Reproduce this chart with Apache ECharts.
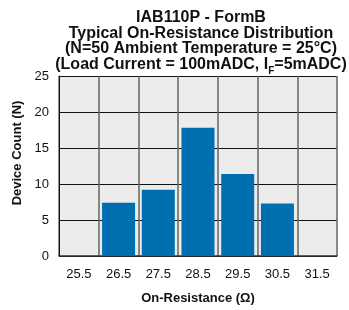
<!DOCTYPE html>
<html>
<head>
<meta charset="utf-8">
<script src="https://cdn.jsdelivr.net/npm/echarts@6/dist/echarts.min.js"></script>
<style>
  html, body { margin: 0; padding: 0; background: #ffffff; }
</style>
</head>
<body>
<div id="chart" style="width: 349px;height: 310px"></div>
<script>
const categories = ['25.5', '26.5', '27.5', '28.5', '29.5', '30.5', '31.5'];
const deviceCount = [0, 7.4, 9.2, 17.8, 11.4, 7.3, 0];
const yTicks = [0, 5, 10, 15, 20, 25];

const font = '"Liberation Sans", Arial, Helvetica, sans-serif';

const chart = echarts.init(document.getElementById('chart'));

const option = {
  backgroundColor: '#ffffff',
  animation: false,
  title: {
    text: '{t|IAB110P - FormB}\n{t|Typical On-Resistance Distribution}\n'
      + '{t|(N=50 Ambient Temperature = 25°C)}\n{t|(Load Current = 100mADC, I}{s|F}{t|=5mADC)}',
    left: 196,
    textAlign: 'center',
    top: 5,
    textStyle: {
      fontFamily: font,
      rich: {
        t: {
          fontFamily: font,
          fontSize: 16,
          fontWeight: 'bold',
          color: '#111111',
          lineHeight: 15.5,
        },
        s: {
          fontFamily: font,
          fontSize: 10,
          fontWeight: 'bold',
          color: '#111111',
          lineHeight: 15.5,
          verticalAlign: 'bottom',
          padding: [0, 0, -4, 0],
        },
      },
    },
  },
  grid: {
    left: 59,
    right: 12,
    top: 76,
    bottom: 49,
    show: true,
    backgroundColor: '#ececec',
    borderWidth: 0,
  },
  xAxis: {
    type: 'category',
    data: categories,
    name: 'On-Resistance (Ω)',
    nameLocation: 'middle',
    nameGap: 36,
    nameTextStyle: {
      fontFamily: font,
      fontSize: 13,
      fontWeight: 'bold',
      color: '#111111',
    },
    axisTick: { show: false },
    axisLine: {
      lineStyle: { color: '#333333', width: 1.5 },
    },
    axisLabel: {
      fontFamily: font,
      fontSize: 13,
      color: '#111111',
      margin: 12,
    },
    splitLine: {
      show: true,
      interval: 0,
      lineStyle: { color: '#666666', width: 1.5 },
    },
  },
  yAxis: {
    type: 'value',
    min: 0,
    max: 25,
    interval: 5,
    name: 'Device Count (N)',
    nameLocation: 'middle',
    nameGap: 30,
    nameTextStyle: {
      fontFamily: font,
      fontSize: 13,
      fontWeight: 'bold',
      color: '#111111',
      padding: [0, 0, 0, 26],
    },
    axisTick: { show: false },
    axisLine: {
      show: true,
      lineStyle: { color: '#111111', width: 1 },
    },
    axisLabel: {
      fontFamily: font,
      fontSize: 13,
      color: '#111111',
      margin: 10,
      formatter: (v) => (yTicks.includes(v) ? String(v) : ''),
    },
    splitLine: {
      show: true,
      lineStyle: { color: '#111111', width: 1 },
    },
  },
  series: [{
    type: 'bar',
    data: deviceCount,
    barWidth: 33,
    itemStyle: { color: '#006faf' },
  }],
};

chart.setOption(option);
</script>
</body>
</html>
